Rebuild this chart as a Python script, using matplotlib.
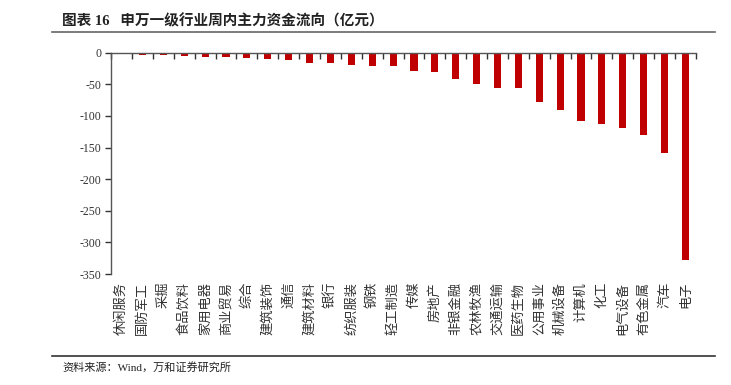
import matplotlib
matplotlib.use("Agg")
import matplotlib.pyplot as plt
from matplotlib.transforms import blended_transform_factory
from matplotlib.lines import Line2D

plt.rcParams['font.family'] = ['Liberation Serif', 'Noto Sans CJK SC']

# weekly main-capital net flow by SW level-1 industry (100M CNY)
industries = ['休闲服务', '国防军工', '采掘', '食品饮料', '家用电器', '商业贸易', '综合',
              '建筑装饰', '通信', '建筑材料', '银行', '纺织服装', '钢铁', '轻工制造',
              '传媒', '房地产', '非银金融', '农林牧渔', '交通运输', '医药生物',
              '公用事业', '机械设备', '计算机', '化工', '电气设备', '有色金属', '汽车', '电子']
flows = [-1, -3, -4, -5, -6, -7, -9, -10, -11.5, -16, -17, -19, -20.5, -21,
         -29.5, -31, -41, -49, -55.5, -56.5, -78.5, -90.5, -107.5, -113, -118.5,
         -129.5, -159, -327]
yticks = [0, -50, -100, -150, -200, -250, -300, -350]

fig = plt.figure(figsize=(7.31, 3.85), dpi=100)
ax = fig.add_axes([0.152, 0.288, 0.8, 0.575])

x = list(range(len(industries)))
ax.bar(x, flows, width=0.34, color='#C00000')

ax.set_xlim(-0.5, len(industries) - 0.5)
ax.set_ylim(-350, 0)
ax.set_yticks(yticks)
ax.set_yticklabels([str(v) for v in yticks], fontsize=8.5, color='#333333')

ax.set_xticks([i - 0.5 for i in range(len(industries) + 1)])
ax.xaxis.set_ticks_position('top')
ax.tick_params(axis='x', direction='in', length=4, width=1, color='#333333', labeltop=False, labelbottom=False)
ax.tick_params(axis='y', direction='out', length=4, width=1, color='#333333', pad=3)

for s in ['right', 'bottom']:
    ax.spines[s].set_visible(False)
for s in ['left', 'top']:
    ax.spines[s].set_color('#555555')
    ax.spines[s].set_linewidth(1)

trans = blended_transform_factory(ax.transData, ax.transAxes)
for i, name in enumerate(industries):
    ax.text(i, -0.035, name, transform=trans, ha='center', va='top', rotation=90,
            fontsize=9.5, color='#333333', family='Noto Sans CJK SC')

fig.text(0.085, 0.945, "图表 16   申万一级行业周内主力资金流向（亿元）", fontsize=10.5,
         fontweight='bold', ha='left', va='center', color='#222222')
fig.add_artist(Line2D([0.071, 0.978], [0.917, 0.917], color='#666666', lw=1.2))
fig.add_artist(Line2D([0.071, 0.978], [0.076, 0.076], color='#333333', lw=1.2))
fig.text(0.085, 0.047, "资料来源：Wind，万和证券研究所", fontsize=8, ha='left', va='center',
         color='#222222')

fig.savefig("out.png", dpi=100)
